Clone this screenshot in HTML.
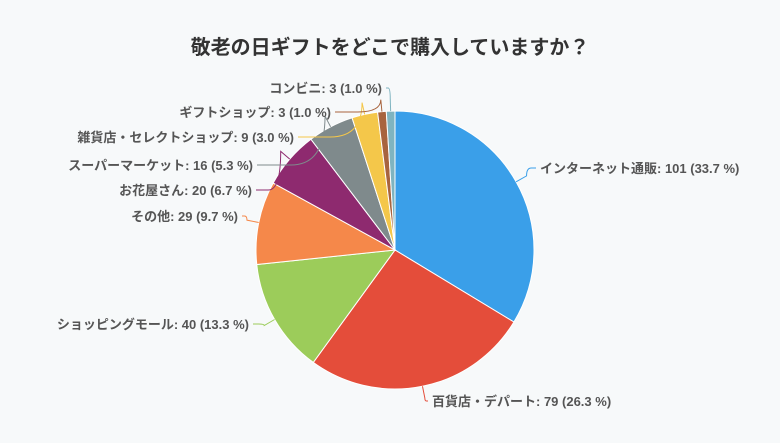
<!DOCTYPE html>
<html><head><meta charset="utf-8">
<style>
body{margin:0;background:#f7f9fa;}
svg text{font-family:"Liberation Sans","Noto Sans CJK JP",sans-serif;}
</style></head>
<body>
<svg id="chart" width="780" height="438" xmlns="http://www.w3.org/2000/svg">
<rect width="780" height="438" fill="#f7f9fa"/>
<text x="390" y="54" text-anchor="middle" font-size="20" font-weight="bold" fill="#333">敬老の日ギフトをどこで購入していますか？</text>
<g id="slices"></g><g id="labels"></g>
</svg>
<script>
const categories=["インターネット通販","百貨店・デパート","ショッピングモール","その他","お花屋さん","スーパーマーケット","雑貨店・セレクトショップ","ギフトショップ","コンビニ"];
const values=[101,79,40,29,20,16,9,3,3];
const colors=["#3a9fe9","#e44d3a","#9ccc5a","#f5884a","#8e2a6f","#7f8a8c","#f4c74a","#a8643e","#7fb4c0"];
// label anchor layout (x, y, side)
const labelPos=[[540,172,1],[432,405,1],[249,328,-1],[238,220,-1],[252,194,-1],[253,169,-1],[294,141,-1],[331,116,-1],[382,92,-1]];
const cx=395,cy=250,r=139;
const total=values.reduce((a,b)=>a+b,0);
const NS="http://www.w3.org/2000/svg";
const gS=document.getElementById('slices'),gL=document.getElementById('labels');
let a0=0;
function pt(a,rr){return [cx+rr*Math.sin(a),cy-rr*Math.cos(a)];}
values.forEach((v,i)=>{
  const a1=a0+v/total*2*Math.PI;
  const p0=pt(a0,r),p1=pt(a1,r);
  const large=(a1-a0)>Math.PI?1:0;
  const path=document.createElementNS(NS,'path');
  path.setAttribute('d',`M${cx},${cy}L${p0[0]},${p0[1]}A${r},${r} 0 ${large} 1 ${p1[0]},${p1[1]}Z`);
  path.setAttribute('fill',colors[i]);path.setAttribute('stroke','#fff');path.setAttribute('stroke-width','1');
  
  
  gS.appendChild(path);
  const am=(a0+a1)/2;
  const e=pt(am,r),m=pt(am,r+12);
  const lp=labelPos[i];
  const lx=lp[0]-lp[2]*4;
  const line=document.createElementNS(NS,'path');
  line.setAttribute('d',`M${e[0]},${e[1]}L${m[0]},${m[1]}Q${m[0]},${lp[1]-4} ${(m[0]+lx)/2},${lp[1]-4}L${lx},${lp[1]-4}`);
  line.setAttribute('fill','none');line.setAttribute('stroke',colors[i]);line.setAttribute('stroke-width','1');
  
  
  gL.appendChild(line);
  const t=document.createElementNS(NS,'text');
  t.setAttribute('x',lp[0]);t.setAttribute('y',lp[1]+1);
  t.setAttribute('text-anchor',lp[2]>0?'start':'end');
  t.setAttribute('font-size','13');t.setAttribute('font-weight','bold');t.setAttribute('fill','#555');
  t.textContent=`${categories[i]}: ${v} (${(v/total*100).toFixed(1)} %)`;
  
  
  gL.appendChild(t);
  a0=a1;
});
</script>
</body></html>
